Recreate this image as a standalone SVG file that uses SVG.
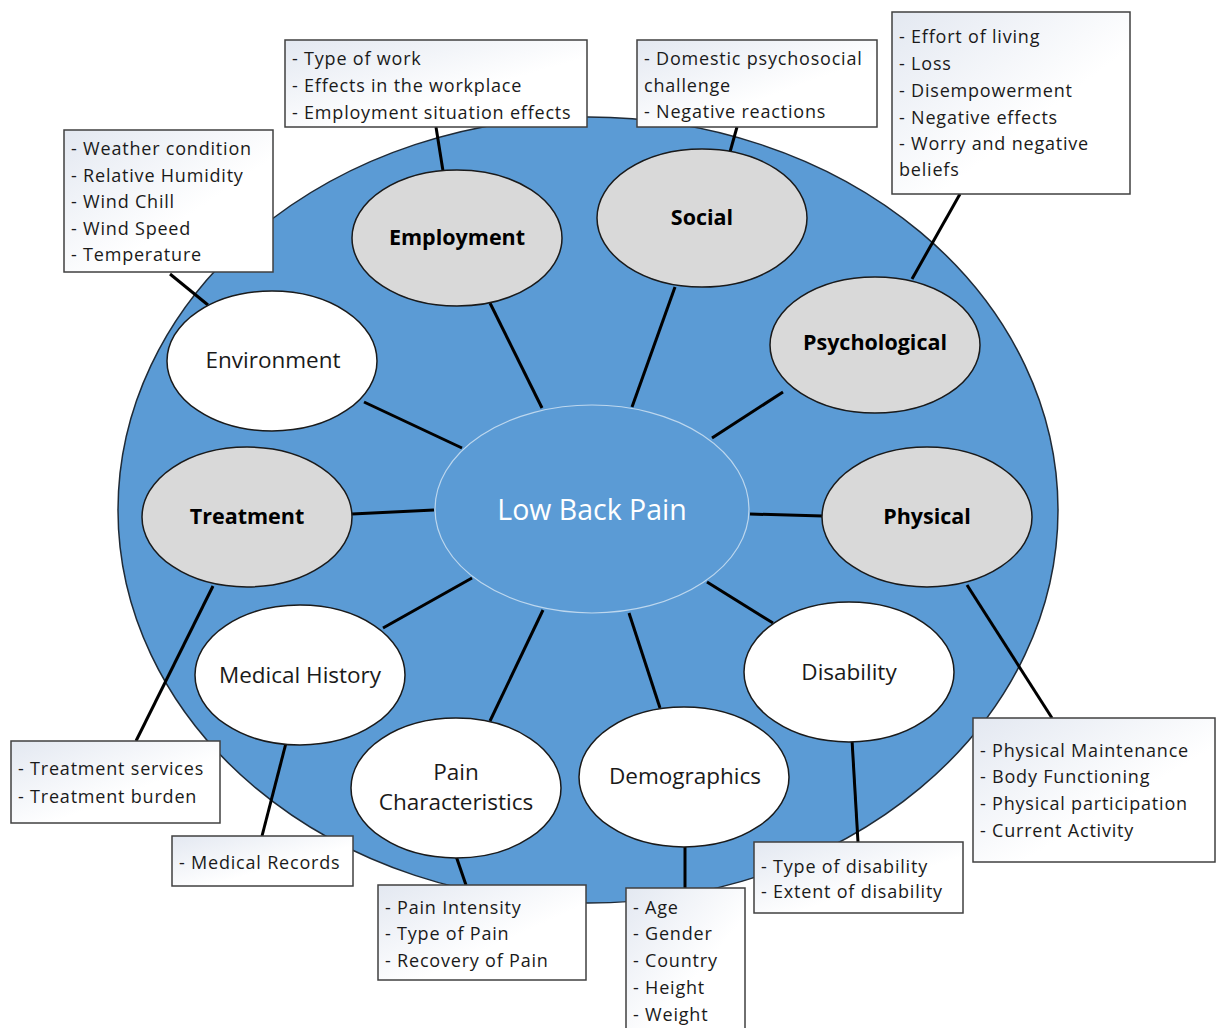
<svg xmlns="http://www.w3.org/2000/svg" width="1216" height="1028" viewBox="0 0 1216 1028">
<style>
.box{fill:url(#bg);stroke:#404040;stroke-width:1.5}
.bt{font-family:"Open Sans","Noto Sans",sans-serif;font-size:18px;letter-spacing:0.8px;fill:#1a1a1a}
.gray{fill:#d9d9d9;stroke:#1a1a1a;stroke-width:1.5}
.white{fill:#ffffff;stroke:#1a1a1a;stroke-width:1.5}
.nb{font-family:"Open Sans","Noto Sans",sans-serif;font-size:21.5px;font-weight:bold;fill:#000;text-anchor:middle}
.nt{font-family:"Open Sans","Noto Sans",sans-serif;font-size:22.5px;fill:#1a1a1a;text-anchor:middle}
.ln{stroke:#000;stroke-width:3;fill:none}
</style>
<defs>
<linearGradient id="bg" x1="0" y1="0" x2="1" y2="1">
<stop offset="0" stop-color="#e3e8f1"/>
<stop offset="0.6" stop-color="#ffffff"/>
<stop offset="1" stop-color="#ffffff"/>
</linearGradient>
</defs>
<rect width="1216" height="1028" fill="#ffffff"/>
<g id="outer">
<ellipse cx="588" cy="510" rx="470" ry="393" fill="#5b9bd5" stroke="#1f2a36" stroke-width="1.5"/>
</g>
<g id="connectors">
<line class="ln" x1="542" y1="408" x2="490" y2="303"/>
<line class="ln" x1="632" y1="407" x2="675" y2="287"/>
<line class="ln" x1="712" y1="438" x2="783" y2="392"/>
<line class="ln" x1="750" y1="514" x2="823" y2="516"/>
<line class="ln" x1="462" y1="448" x2="364" y2="402"/>
<line class="ln" x1="434" y1="510" x2="352" y2="514"/>
<line class="ln" x1="472" y1="578" x2="383" y2="628"/>
<line class="ln" x1="543" y1="610" x2="490" y2="721"/>
<line class="ln" x1="629" y1="613" x2="660" y2="708"/>
<line class="ln" x1="707" y1="582" x2="773" y2="623"/>
<line class="ln" x1="170" y1="274" x2="208" y2="305"/>
<line class="ln" x1="436" y1="127" x2="443" y2="171"/>
<line class="ln" x1="737" y1="127" x2="730" y2="152"/>
<line class="ln" x1="960" y1="194" x2="912" y2="279"/>
<line class="ln" x1="967" y1="585" x2="1052" y2="718"/>
<line class="ln" x1="852" y1="740" x2="858" y2="842"/>
<line class="ln" x1="685" y1="846" x2="685" y2="888"/>
<line class="ln" x1="456" y1="856" x2="466" y2="885"/>
<line class="ln" x1="286" y1="743" x2="262" y2="836"/>
<line class="ln" x1="213" y1="586" x2="136" y2="741"/>
</g>
<g id="hub">
<ellipse cx="592" cy="509" rx="157" ry="104" fill="#5b9bd5" stroke="#bdd7ee" stroke-width="1.2"/>
<text x="592" y="520" font-family="'Open Sans','Noto Sans',sans-serif" font-size="28.5" fill="#ffffff" text-anchor="middle">Low Back Pain</text>
</g>
<g id="employment">
<ellipse class="gray" cx="457" cy="238" rx="105" ry="68"/>
<text class="nb" x="457" y="245">Employment</text>
</g>
<g id="social">
<ellipse class="gray" cx="702" cy="218" rx="105" ry="69"/>
<text class="nb" x="702" y="225">Social</text>
</g>
<g id="psychological">
<ellipse class="gray" cx="875" cy="345" rx="105" ry="68"/>
<text class="nb" x="875" y="350">Psychological</text>
</g>
<g id="physical">
<ellipse class="gray" cx="927" cy="517" rx="105" ry="70"/>
<text class="nb" x="927" y="524">Physical</text>
</g>
<g id="environment">
<ellipse class="white" cx="272" cy="361" rx="105" ry="70"/>
<text class="nt" x="273" y="368">Environment</text>
</g>
<g id="treatment">
<ellipse class="gray" cx="247" cy="517" rx="105" ry="70"/>
<text class="nb" x="247" y="524">Treatment</text>
</g>
<g id="medical-history">
<ellipse class="white" cx="300" cy="675" rx="105" ry="70"/>
<text class="nt" x="300" y="683">Medical History</text>
</g>
<g id="pain-characteristics">
<ellipse class="white" cx="456" cy="788" rx="105" ry="70"/>
<text class="nt" x="456" y="780">Pain</text>
<text class="nt" x="456" y="810">Characteristics</text>
</g>
<g id="demographics">
<ellipse class="white" cx="684" cy="777" rx="105" ry="70"/>
<text class="nt" x="685" y="784">Demographics</text>
</g>
<g id="disability">
<ellipse class="white" cx="849" cy="672" rx="105" ry="70"/>
<text class="nt" x="849" y="680">Disability</text>
</g>
<g id="box-environment">
<rect class="box" x="64" y="130" width="209" height="142"/>
<text class="bt" x="71" y="155">- Weather condition</text>
<text class="bt" x="71" y="182">- Relative Humidity</text>
<text class="bt" x="71" y="208">- Wind Chill</text>
<text class="bt" x="71" y="235">- Wind Speed</text>
<text class="bt" x="71" y="261">- Temperature</text>
</g>
<g id="box-employment">
<rect class="box" x="285" y="40" width="302" height="87"/>
<text class="bt" x="292" y="65">- Type of work</text>
<text class="bt" x="292" y="92">- Effects in the workplace</text>
<text class="bt" x="292" y="119">- Employment situation effects</text>
</g>
<g id="box-social">
<rect class="box" x="637" y="40" width="240" height="87"/>
<text class="bt" x="644" y="65">- Domestic psychosocial</text>
<text class="bt" x="644" y="92">challenge</text>
<text class="bt" x="644" y="118">- Negative reactions</text>
</g>
<g id="box-psychological">
<rect class="box" x="892" y="12" width="238" height="182"/>
<text class="bt" x="899" y="43">- Effort of living</text>
<text class="bt" x="899" y="70">- Loss</text>
<text class="bt" x="899" y="97">- Disempowerment</text>
<text class="bt" x="899" y="124">- Negative effects</text>
<text class="bt" x="899" y="150">- Worry and negative</text>
<text class="bt" x="899" y="176">beliefs</text>
</g>
<g id="box-physical">
<rect class="box" x="973" y="718" width="242" height="144"/>
<text class="bt" x="980" y="757">- Physical Maintenance</text>
<text class="bt" x="980" y="783">- Body Functioning</text>
<text class="bt" x="980" y="810">- Physical participation</text>
<text class="bt" x="980" y="837">- Current Activity</text>
</g>
<g id="box-disability">
<rect class="box" x="754" y="842" width="209" height="71"/>
<text class="bt" x="761" y="873">- Type of disability</text>
<text class="bt" x="761" y="898">- Extent of disability</text>
</g>
<g id="box-demographics">
<rect class="box" x="626" y="888" width="119" height="145"/>
<text class="bt" x="633" y="914">- Age</text>
<text class="bt" x="633" y="940">- Gender</text>
<text class="bt" x="633" y="967">- Country</text>
<text class="bt" x="633" y="994">- Height</text>
<text class="bt" x="633" y="1021">- Weight</text>
</g>
<g id="box-pain">
<rect class="box" x="378" y="885" width="208" height="95"/>
<text class="bt" x="385" y="914">- Pain Intensity</text>
<text class="bt" x="385" y="940">- Type of Pain</text>
<text class="bt" x="385" y="967">- Recovery of Pain</text>
</g>
<g id="box-medical">
<rect class="box" x="172" y="836" width="181" height="50"/>
<text class="bt" x="179" y="869">- Medical Records</text>
</g>
<g id="box-treatment">
<rect class="box" x="11" y="741" width="209" height="82"/>
<text class="bt" x="18" y="775">- Treatment services</text>
<text class="bt" x="18" y="803">- Treatment burden</text>
</g>
</svg>
